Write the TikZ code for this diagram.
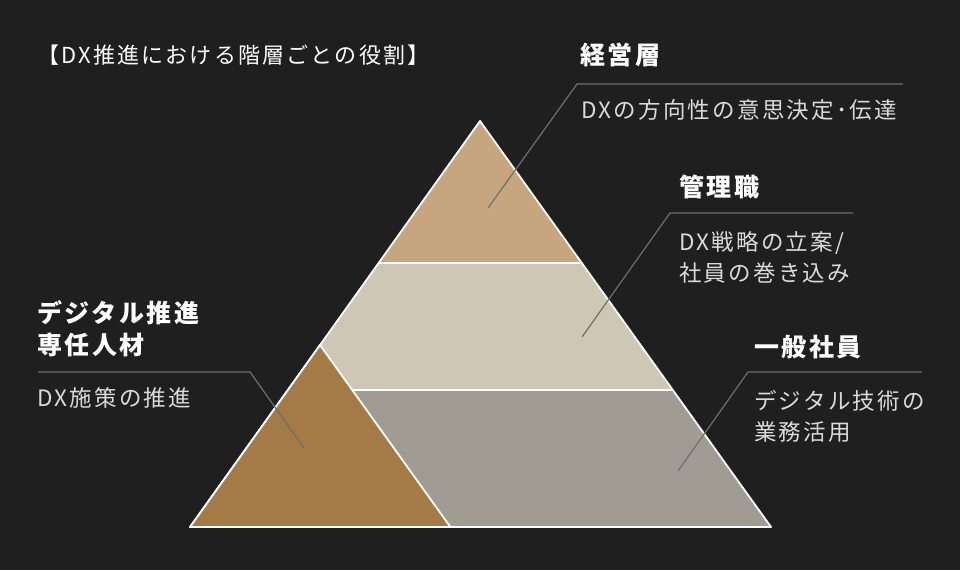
\documentclass[tikz,border=0pt]{standalone}
\usepackage{fontspec}
\setmainfont{Noto Sans CJK JP}[LetterSpace=10]
\usepackage{tikz}
\definecolor{backdrop}{HTML}{1F1F1F}
\definecolor{toptan}{HTML}{C7A57F}
\definecolor{midbeige}{HTML}{CEC7B3}
\definecolor{basegray}{HTML}{A09C93}
\definecolor{dxbrown}{HTML}{A47A47}
\definecolor{leadergray}{HTML}{6E6E6E}
\definecolor{rolegray}{HTML}{DADADA}
\begin{document}
\begin{tikzpicture}[x=1pt, y=-1pt,
  heading/.style ={anchor=west, inner sep=0pt, text=white, align=left,
    font=\fontsize{25}{32}\selectfont\bfseries},
  role/.style ={anchor=west, inner sep=0pt, text=rolegray, align=left,
    font=\fontsize{22.5}{31}\selectfont},
  layer/.style ={draw=white, line width=1.8pt, line join=round},
  leader/.style ={draw=leadergray, line width=1.2pt}]
 \fill[backdrop] (0,0) rectangle (960,570);
 \useasboundingbox (0,0) rectangle (960,570);
 \coordinate (apex) at (480,121);
 \coordinate (L1) at (378.6,263);
 \coordinate (R1) at (581.8,263);
 \coordinate (L2) at (287.9,390);
 \coordinate (R2) at (672.8,390);
 \coordinate (BL) at (190,527);
 \coordinate (BR) at (771,527);
 \coordinate (dxapex) at (320,345);
 \coordinate (dxbase) at (450.4,527);
 \filldraw[layer, fill=toptan] (apex) -- (R1) -- (L1) -- cycle;
 \filldraw[layer, fill=midbeige] (L1) -- (R1) -- (R2) -- (L2) -- cycle;
 \filldraw[layer, fill=basegray] (L2) -- (R2) -- (BR) -- (BL) -- cycle;
 \filldraw[layer, fill=dxbrown] (dxapex) -- (dxbase) -- (BL) -- cycle;
 \node[role, text=white, font=\fontsize{22}{31}\selectfont] (title) at (37,55) {【DX推進における階層ごとの役割】};
 \node[heading] (exec) at (580,55) {経営層};
 \node[role] (execrole) at (581,110) {DXの方向性の意思決定･伝達};
 \node[heading] (mgr) at (679,187) {管理職};
 \node[role] (mgrrole) at (679,257.5) {DX戦略の立案/\\社員の巻き込み};
 \node[heading] (staff) at (754,347) {一般社員};
 \node[role] (staffrole) at (754,416) {デジタル技術の\\業務活用};
 \node[heading] (dx) at (37,329) {デジタル推進\\専任人材};
 \node[role] (dxrole) at (37,398) {DX施策の推進};
 \coordinate (exectip) at (488,208);
 \coordinate (execknee) at (577,84);
 \coordinate (execend) at (903,84);
 \coordinate (mgrtip) at (582,337);
 \coordinate (mgrknee) at (670,213);
 \coordinate (mgrend) at (853,213);
 \coordinate (stafftip) at (678,471);
 \coordinate (staffknee) at (748,372);
 \coordinate (staffend) at (922,372);
 \coordinate (dxtip) at (304,448);
 \coordinate (dxknee) at (250,372);
 \coordinate (dxend) at (38,372);
 \draw[leader] (exectip) -- (execknee) -- (execend);
 \draw[leader] (mgrtip) -- (mgrknee) -- (mgrend);
 \draw[leader] (stafftip) -- (staffknee) -- (staffend);
 \draw[leader] (dxtip) -- (dxknee) -- (dxend);
\end{tikzpicture}
\end{document}
